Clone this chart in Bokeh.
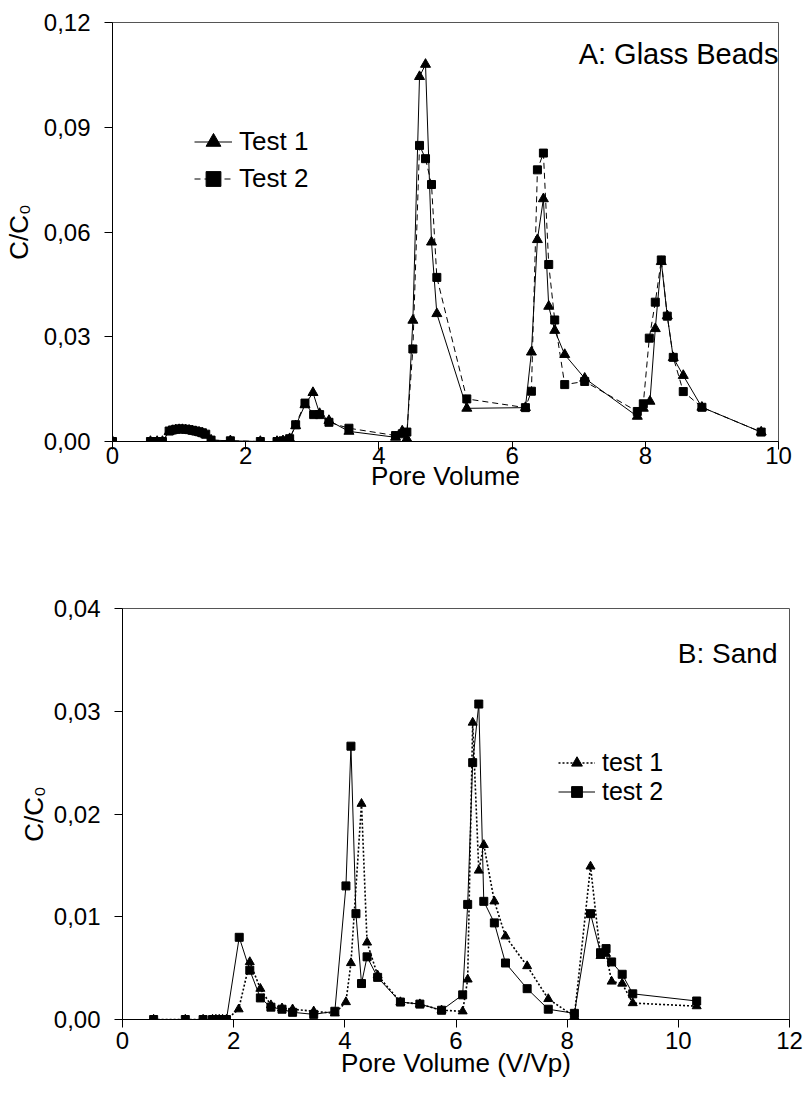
from bokeh.plotting import figure
from bokeh.models import Range1d, FixedTicker, CustomJSTickFormatter, Label, Legend
from bokeh.embed import file_html
from bokeh.resources import INLINE

# ---------------- Panel A: Glass Beads ----------------
a_test1_x = [0, 0.57, 0.67, 0.75, 0.85, 0.90, 0.95, 1.00, 1.05, 1.10, 1.15, 1.20, 1.25, 1.30, 1.35, 1.40, 1.48,
             1.77, 2.22, 2.47, 2.56, 2.66, 2.75, 2.89, 3.01, 3.11, 3.25, 3.55, 4.25, 4.35, 4.42, 4.51, 4.61,
             4.70, 4.79, 4.87, 5.32, 6.20, 6.29, 6.38, 6.47, 6.55, 6.64, 6.79, 7.09, 7.88, 7.97, 8.07, 8.15,
             8.24, 8.33, 8.42, 8.57, 8.85, 9.74]
a_test1_y = [0, 0, 0, 0, 0.0028, 0.0031, 0.0033, 0.0034, 0.0034, 0.0033, 0.0032, 0.0030, 0.0028, 0.0026, 0.0023,
             0.0019, 0.0004, 0.0002, 0, 0, 0.0002, 0.0008, 0.0045, 0.0105, 0.0140, 0.0080, 0.0060, 0.0029,
             0.0012, 0.0030, 0.0008, 0.0347, 0.1045, 0.1080, 0.0571, 0.0366, 0.0095, 0.0097, 0.0256, 0.0578,
             0.0695, 0.0387, 0.0318, 0.0249, 0.0181, 0.0072, 0.0095, 0.0115, 0.0323, 0.0515, 0.0360, 0.0240,
             0.0189, 0.0098, 0.0027]
a_test2_x = [0, 0.57, 0.67, 0.75, 0.85, 0.90, 0.95, 1.00, 1.05, 1.10, 1.15, 1.20, 1.25, 1.30, 1.35, 1.40, 1.48,
             1.77, 2.22, 2.47, 2.56, 2.66, 2.75, 2.89, 3.02, 3.11, 3.25, 3.55, 4.25, 4.35, 4.42, 4.51, 4.61,
             4.70, 4.79, 4.87, 5.32, 6.20, 6.29, 6.38, 6.47, 6.55, 6.64, 6.79, 7.09, 7.88, 7.97, 8.06, 8.15,
             8.24, 8.33, 8.42, 8.57, 8.85, 9.74]
a_test2_y = [0, 0, 0, 0, 0.0030, 0.0033, 0.0035, 0.0036, 0.0036, 0.0035, 0.0034, 0.0032, 0.0030, 0.0028, 0.0025,
             0.0021, 0.0004, 0.0002, 0, 0, 0.0002, 0.0008, 0.0048, 0.0110, 0.0077, 0.0077, 0.0055, 0.0038,
             0.0017, 0.0022, 0.0027, 0.0265, 0.0848, 0.0810, 0.0736, 0.0470, 0.0122, 0.0097, 0.0144, 0.0778,
             0.0826, 0.0507, 0.0348, 0.0163, 0.0172, 0.0086, 0.0108, 0.0296, 0.0399, 0.0520, 0.0359, 0.0241,
             0.0143, 0.0098, 0.0027]
a_xticks = [0, 2, 4, 6, 8, 10]
a_yticks = [0.0, 0.03, 0.06, 0.09, 0.12]
a_labels = ["Test 1", "Test 2"]
a_title = "A: Glass Beads"
a_xlabel = "Pore Volume"

# ---------------- Panel B: Sand ----------------
b_test1_x = [0.56, 1.13, 1.45, 1.62, 1.68, 1.74, 1.80, 1.87, 2.09, 2.29, 2.48, 2.67, 2.87, 3.06, 3.44, 3.82,
             4.02, 4.11, 4.30, 4.40, 4.59, 5.00, 5.35, 5.74, 6.12, 6.21, 6.30, 6.41, 6.50, 6.69, 6.89, 7.28,
             7.66, 8.13, 8.42, 8.60, 8.70, 8.80, 8.99, 9.18, 10.33]
b_test1_y = [0, 0, 0, 0, 0, 0, 0, 0, 0.0010, 0.0056, 0.0030, 0.0014, 0.0011, 0.0010, 0.0008, 0.0006,
             0.0017, 0.0055, 0.0210, 0.0075, 0.0043, 0.0017, 0.0015, 0.0009, 0.0008, 0.0039, 0.0289, 0.0145,
             0.0170, 0.0115, 0.0081, 0.0052, 0.0020, 0.0003, 0.0149, 0.0062, 0.0064, 0.0037, 0.0035, 0.0016,
             0.0013]
b_test2_x = [0.56, 1.13, 1.45, 1.62, 1.68, 1.74, 1.80, 1.87, 2.10, 2.29, 2.48, 2.67, 2.87, 3.06, 3.44, 3.82,
             4.02, 4.11, 4.20, 4.30, 4.40, 4.59, 5.00, 5.35, 5.74, 6.12, 6.21, 6.30, 6.41, 6.50, 6.69, 6.89,
             7.28, 7.66, 8.13, 8.42, 8.60, 8.70, 8.80, 8.99, 9.18, 10.33]
b_test2_y = [0, 0, 0, 0, 0, 0, 0, 0, 0.0080, 0.0048, 0.0021, 0.0012, 0.0010, 0.0007, 0.0005, 0.0008,
             0.0130, 0.0266, 0.0103, 0.0035, 0.0061, 0.0041, 0.0017, 0.0015, 0.0009, 0.0024, 0.0112, 0.0250,
             0.0307, 0.0115, 0.0094, 0.0055, 0.0030, 0.0010, 0.0006, 0.0103, 0.0065, 0.0069, 0.0056, 0.0044,
             0.0025, 0.0018]
b_xticks = [0, 2, 4, 6, 8, 10, 12]
b_yticks = [0.0, 0.01, 0.02, 0.03, 0.04]
b_labels = ["test 1", "test 2"]
b_title = "B: Sand"
b_xlabel = "Pore Volume (V/Vp)"
ylabel = "C/C\u2080"

FONT = "Liberation Sans"
fmt = CustomJSTickFormatter(code="return tick.toFixed(2).replace('.', ',');")


def style(p, xticks, yticks, xlabel):
    p.xgrid.visible = False
    p.ygrid.visible = False
    p.outline_line_color = "#555555"
    p.outline_line_width = 1
    p.background_fill_color = "white"
    p.border_fill_color = "white"
    for ax in (p.xaxis[0], p.yaxis[0]):
        ax.axis_line_color = "black"
        ax.major_tick_line_color = "black"
        ax.minor_tick_line_color = None
        ax.major_tick_in = 0
        ax.major_tick_out = 8
        ax.major_label_text_font = FONT
        ax.major_label_text_font_size = "24px"
        ax.major_label_text_color = "black"
        ax.axis_label_text_font = FONT
        ax.axis_label_text_font_size = "26px"
        ax.axis_label_text_font_style = "normal"
        ax.axis_label_text_color = "black"
    p.xaxis[0].ticker = FixedTicker(ticks=xticks)
    p.yaxis[0].ticker = FixedTicker(ticks=yticks)
    p.yaxis[0].formatter = fmt
    p.xaxis[0].axis_label = xlabel
    p.yaxis[0].axis_label = ylabel
    p.yaxis[0].major_label_standoff = 14


# ---- top figure ----
pa = figure(frame_width=666, frame_height=419, min_border_left=112, min_border_right=16,
            min_border_top=22, min_border_bottom=78,
            x_range=Range1d(0, 10), y_range=Range1d(0, 0.12),
            output_backend="svg", toolbar_location=None)
style(pa, a_xticks, a_yticks, a_xlabel)
pa.yaxis[0].axis_label_standoff = 7
pa.xaxis[0].major_label_standoff = -3
pa.xaxis[0].axis_label_standoff = -6

ra1l = pa.line(a_test1_x, a_test1_y, line_color="black", line_width=1)
ra1m = pa.scatter(a_test1_x, a_test1_y, marker="triangle", size=10, color="black")
ra2l = pa.line(a_test2_x, a_test2_y, line_color="black", line_width=1, line_dash="6 4")
ra2m = pa.scatter(a_test2_x, a_test2_y, marker="square", size=8, color="black")

leg_a = Legend(items=[(a_labels[0], [ra1l, ra1m]), (a_labels[1], [ra2l, ra2m])],
               location=(82, 244), orientation="vertical",
               label_text_font=FONT, label_text_font_size="26px", label_text_color="black",
               glyph_width=38, glyph_height=37, label_height=37, label_standoff=7,
               spacing=0, padding=0, margin=0, border_line_color=None, background_fill_alpha=0)
pa.add_layout(leg_a)

pa.add_layout(Label(x=666, y=388, x_units="screen", y_units="screen", text=a_title,
                    text_font=FONT, text_font_size="29px", text_align="right",
                    text_baseline="alphabetic", text_color="black"))

# ---- bottom figure ----
pb = figure(frame_width=667, frame_height=411, min_border_left=122, min_border_right=18,
            min_border_top=89, min_border_bottom=85,
            x_range=Range1d(0, 12), y_range=Range1d(0, 0.04),
            output_backend="svg", toolbar_location=None)
style(pb, b_xticks, b_yticks, b_xlabel)
pb.yaxis[0].axis_label_standoff = 2
pb.xaxis[0].major_label_standoff = 4
pb.xaxis[0].axis_label_standoff = -4

rb1l = pb.line(b_test1_x, b_test1_y, line_color="black", line_width=1.6, line_dash="2 2")
rb1m = pb.scatter(b_test1_x, b_test1_y, marker="triangle", size=9, color="black")
rb2l = pb.line(b_test2_x, b_test2_y, line_color="black", line_width=1)
rb2m = pb.scatter(b_test2_x, b_test2_y, marker="square", size=8, color="black")

leg_b = Legend(items=[(b_labels[0], [rb1l, rb1m]), (b_labels[1], [rb2l, rb2m])],
               location=(436, 213), orientation="vertical",
               label_text_font=FONT, label_text_font_size="25px", label_text_color="black",
               glyph_width=37, glyph_height=27, label_height=27, label_standoff=7,
               spacing=0, padding=0, margin=0, border_line_color=None, background_fill_alpha=0)
pb.add_layout(leg_b)

pb.add_layout(Label(x=655, y=366, x_units="screen", y_units="screen", text=b_title,
                    text_font=FONT, text_font_size="28px", text_align="right",
                    text_baseline="alphabetic", text_color="black"))

open("out.html", "w").write(file_html([pa, pb], INLINE))
